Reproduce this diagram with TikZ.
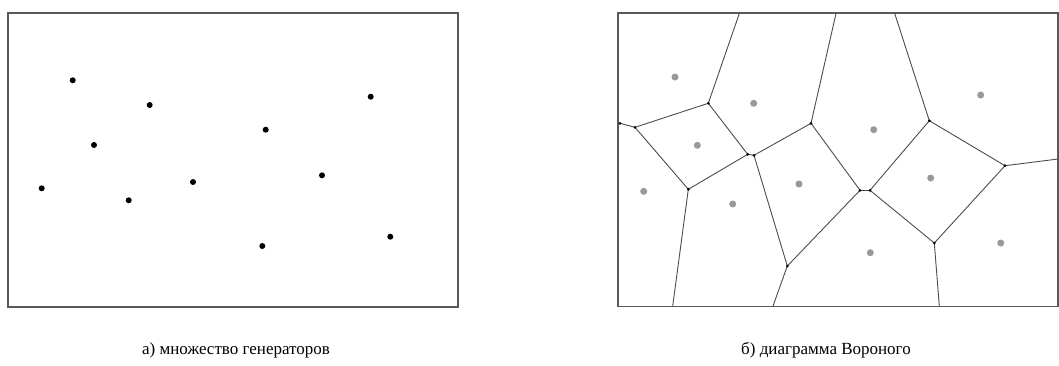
\documentclass[tikz,border=0pt]{standalone}
\usepackage{fontspec}
\setmainfont{Liberation Serif}
\begin{document}
\begin{tikzpicture}[x=1pt,y=-1pt,
  frame/.style={draw=black!65,line width=1.2pt},
  gen/.style={circle,fill=black,inner sep=0pt,minimum size=6pt},
  ggen/.style={circle,fill=black!40,inner sep=0pt,minimum size=7pt},
  vx/.style={circle,fill=black,inner sep=0pt,minimum size=3pt},
  vedge/.style={draw=black!70,line width=0.9pt},
  captext/.style={font=\fontsize{17}{20}\selectfont}]
\useasboundingbox (0,0) rectangle (1059,365);
% left panel
\draw[frame] (8,13) rectangle (458,307);
\foreach \n/\x/\y in {p1/72.7/80.3, p2/149.7/105, p3/370.7/96.7, p4/265.7/129.7, p5/94/145, p6/41.7/188.3, p7/128.7/200.3, p8/193/182, p9/322/175.3, p10/262.3/246, p11/390.3/236.7}
  \node[gen] (\n) at (\x,\y) {};
\node[captext] (capa) at (236,350) {а) множество генераторов};
% right panel
\draw[frame] (618,13) rectangle (1058,306.5);
\foreach \n/\x/\y in {q1/675/77, q2/753.7/103.3, q3/980.7/95, q4/873.7/129.7, q5/697.3/145.3, q6/643.7/191.3, q7/732.7/204, q8/799/184, q9/930.7/178, q10/870.3/252.7, q11/1000.7/243}
  \node[ggen] (\n) at (\x,\y) {};
% Voronoi vertices
\foreach \n/\x/\y in {A/708.3/103.3, B/635/127.3, C/620/123.3, D/747.7/154.3, E/754/155.3, F/811/123.3, G/688.3/189.3, H/860/190.3, I/870/190.3, J/929.3/120.7, K/1005/165.7, L/934.3/243, M/787.3/266}
  \coordinate (\n) at (\x,\y);
% boundary ends
\coordinate (tA) at (739.3,13.5);
\coordinate (tF) at (836,13.5);
\coordinate (tJ) at (894.7,13.5);
\coordinate (rK) at (1058,159);
\coordinate (bG) at (672.7,306);
\coordinate (bM) at (773,306);
\coordinate (bL) at (939.3,306);
\foreach \a/\b in {C/B, B/A, A/tA, A/D, B/G, G/D, D/E, E/F, F/tF, E/M, G/bG, F/H, H/I, H/M, I/J, I/L, J/tJ, J/K, K/rK, K/L, L/bL, M/bM}
  \draw[vedge] (\a) -- (\b);
\foreach \n in {A,B,C,D,E,F,G,H,I,J,K,L,M}
  \node[vx] at (\n) {};
\node[captext] (capb) at (826,350) {б) диаграмма Вороного};
\end{tikzpicture}
\end{document}
